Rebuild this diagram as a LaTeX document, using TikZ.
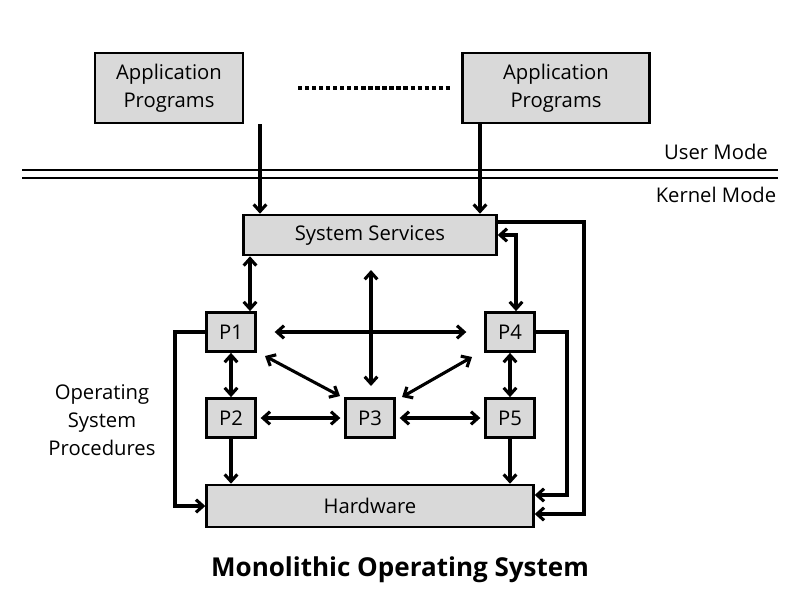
\documentclass[tikz,border=0pt]{standalone}
\usepackage{fontspec}
\setmainfont{Open Sans}
\usetikzlibrary{arrows.meta}
\tikzset{
  box/.style={draw, line width=1.8pt, fill=boxgray, inner sep=0pt, font=\Large},
  conn/.style={line width=2.2pt},
  >={Straight Barb[length=5pt,width=9pt]}
}
\definecolor{boxgray}{HTML}{D9D9D9}
\begin{document}
\begin{tikzpicture}[x=0.025cm,y=-0.025cm]
\useasboundingbox (0,0) rectangle (800,600);
% application layer
\node [box, minimum width=3.7cm, minimum height=1.75cm, align=center] (app1) at (169,88) {Application\\[2pt]Programs};
\node [box, minimum width=4.67cm, minimum height=1.75cm, align=center] (app2) at (556,88) {Application\\[2pt]Programs};
\draw [line width=3pt, dotted] (298,88) -- (450,88);
% mode separator
\draw [line width=2pt] (22,170) -- (778,170);
\draw [line width=2pt] (22,178) -- (778,178);
\node [font=\Large] at (716,152) {User Mode};
\node [font=\Large] at (716,195) {Kernel Mode};
% kernel
\node [box, minimum width=6.32cm, minimum height=1cm] (ss) at (370,235) {System Services};
\foreach \n/\x/\y in {p1/231/332, p4/510/332, p2/231/418, p3/370/418, p5/510/418} {
  \node [box, minimum width=1.22cm, minimum height=0.98cm] (\n) at (\x,\y) {\MakeUppercase{\n}};
}
\node [box, minimum width=8.17cm, minimum height=1.05cm] (hw) at (370,506) {Hardware};
\node [font=\Large, align=center] at (102,420) {Operating\\[2pt]System\\[2pt]Procedures};
\node [font=\fontsize{18.5}{22}\selectfont\bfseries] at (400,570) {Monolithic Operating System};
% connectors
\draw [conn, ->] (app1.south -| 260,0) -- (ss.north -| 260,0);
\draw [conn, ->] (app2.south -| 480,0) -- (ss.north -| 480,0);
\draw [conn, <->] (ss.south -| 250,0) -- (p1.north -| 250,0);
\draw [conn, <->] (ss.east) -| (p4.north -| 516,0);
\draw [conn, <->] (371,270) -- (371,386);
\draw [conn, <->] ([xshift=0.45cm]p1.east) -- ([xshift=-0.45cm]p4.west);
\draw [conn, <->] (265,356) -- (340,396);
\draw [conn, <->] (472,357) -- (402,397);
\draw [conn, <->] ([xshift=0.1cm]p2.east) -- ([xshift=-0.1cm]p3.west);
\draw [conn, <->] ([xshift=0.1cm]p3.east) -- ([xshift=-0.1cm]p5.west);
\draw [conn, <->] (p1) -- (p2);
\draw [conn, <->] (p4) -- (p5);
\draw [conn, ->] (p2) -- (p2 |- hw.north);
\draw [conn, ->] (p5) -- (p5 |- hw.north);
\draw [conn, ->] (p1.west) -- (175,332) |- (hw.west);
\draw [conn, ->] (p4.east) -- (567,332) |- (hw.east |- 0,495);
\draw [conn, ->] (ss.east |- 0,222) -- (584,222) |- (hw.east |- 0,514);
\end{tikzpicture}
\end{document}
